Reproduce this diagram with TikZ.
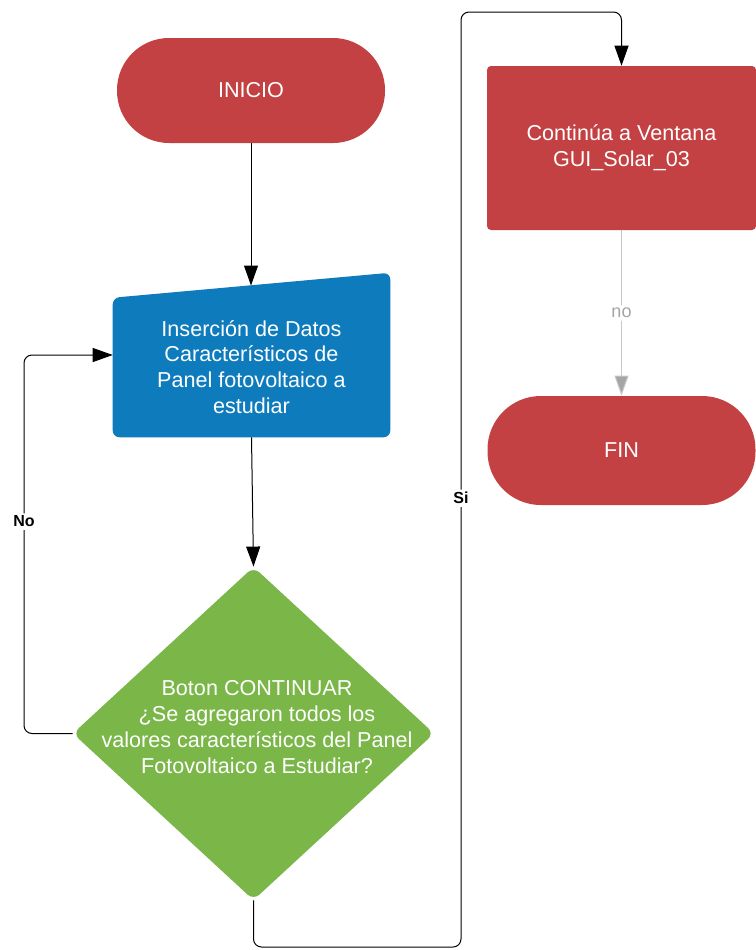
\documentclass[tikz,border=0pt]{standalone}
\usepackage{fontspec}
\setmainfont{Liberation Sans}
\usepackage{tikz}
\usetikzlibrary{shapes.geometric, calc, positioning}
\usetikzlibrary{arrows.meta}
\tikzset{>={Triangle[length=15pt,width=10.5pt]}}
\definecolor{myred}{RGB}{196,65,67}
\definecolor{myblue}{RGB}{14,123,189}
\definecolor{mygreen}{HTML}{7AB648}
\definecolor{mygray}{RGB}{200,200,200}
\definecolor{mydarkgray}{RGB}{165,165,165}
\tikzset{
  txt/.style={text=white, align=center, font=\fontsize{16.2}{19.3}\selectfont},
  terminal/.style={txt, rectangle, fill=myred, rounded corners=39pt, minimum width=201pt},
  proceso/.style={txt, rectangle, fill=myred, rounded corners=3pt, minimum width=201.75pt, minimum height=123pt},
  decision/.style={diamond, fill=mygreen, rounded corners=6pt, inner sep=0pt, minimum width=271pt, minimum height=250pt},
  etiq/.style={fill=white, inner sep=2pt, font=\fontsize{12}{14}\selectfont\bfseries},
  linea/.style={line width=0.75pt, rounded corners=6pt}
}

\begin{document}
\begin{tikzpicture}[x=0.75pt, y=-0.75pt]
  \useasboundingbox (0,0) rectangle (756,950);
  \node[terminal, minimum height=78.75pt] (inicio) at (251,90.5) {INICIO};
  \node[minimum width=207.75pt, minimum height=123pt, inner sep=0pt] (datos) at (251.5,355) {};
  \fill[myblue, rounded corners=5pt] ($(datos.north west)+(0,25)$) -- (datos.north east) -- (datos.south east) -- (datos.south west) -- cycle;
  \node[txt] at (251.5,367) {Inserción de Datos\\Característicos de\\Panel fotovoltaico a\\estudiar};
  \node[decision] (preg) at (253.5,733.5) {};
  \node[txt] at (257,727) {Boton CONTINUAR\\¿Se agregaron todos los\\valores característicos del Panel\\Fotovoltaico a Estudiar?};
  \node[proceso] (cont) at (621.5,148) {Continúa a Ventana\\GUI\_Solar\_03};
  \node[terminal, minimum height=81.75pt, rounded corners=40pt] (fin) at (621.5,450.5) {FIN};

  \coordinate (entrada) at (251,285.5);
  \coordinate (codoNo) at (24,355);
  \coordinate (bajoSi) at (461,947);
  \coordinate (altoSi) at (461,12);

  \draw[linea, ->] (inicio.south) -- (entrada);
  \draw[linea, ->] (datos.south) -- (preg.north);
  \draw[linea, ->] (preg.west) -| node[etiq, pos=0.78] {No} (codoNo) -- (datos.west);
  \draw[linea, ->] (preg.south) |- (bajoSi) -- node[etiq, pos=0.48] {Si} (altoSi) -| (cont.north);
  \draw[linea, draw=mygray, -{Triangle[length=15pt,width=10.5pt,fill=mydarkgray]}] (cont.south) -- node[fill=white, inner sep=2pt, text=mydarkgray, font=\fontsize{13.5}{15}\selectfont] {no} (fin.north);
\end{tikzpicture}
\end{document}
